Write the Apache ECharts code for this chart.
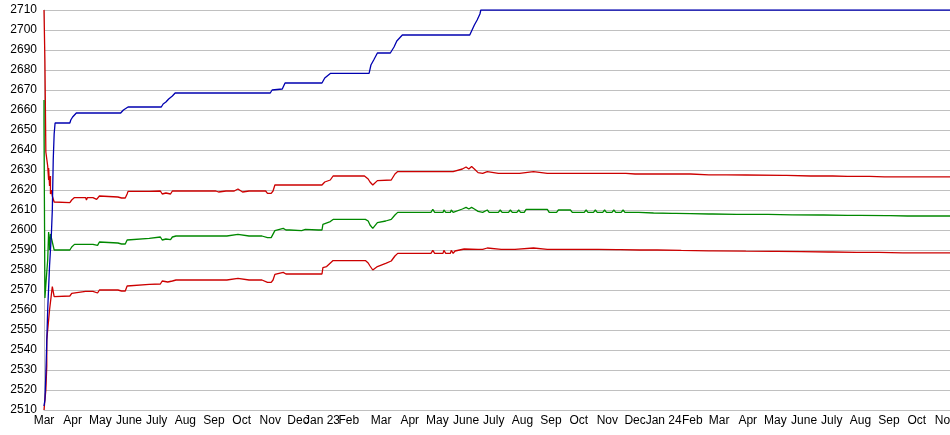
<!DOCTYPE html>
<html>
<head>
<meta charset="utf-8">
<script src="https://cdn.jsdelivr.net/npm/echarts@6/dist/echarts.min.js"></script>
<style>
html,body{margin:0;padding:0;background:#fff;}
#chart{width:950px;height:435px;}
</style>
</head>
<body>
<div id="chart"></div>
<script>
// x axis: day index since 1 Mar 2022
const dayCount = 982;
const monthLabels = ['Mar','Apr','May','June','July','Aug','Sep','Oct','Nov','Dec','Jan 23','Feb','Mar','Apr','May','June','July','Aug','Sep','Oct','Nov','Dec','Jan 24','Feb','Mar','Apr','May','June','July','Aug','Sep','Oct','Nov'];
const monthDays = [0,31,61,92,122,153,184,214,245,275,301,330,365,396,426,457,487,518,549,579,610,640,671,702,731,762,792,823,853,884,915,945,976];

// top line (blue)
const topLine = [[0,2512],[1,2515],[2,2528],[4,2560],[6,2582],[8,2598],[9,2610],[10,2635],[11,2648],[12,2653.5],[28,2653.5],[29,2655],[31,2656.5],[35,2658.5],[83,2658.5],[86,2660],[91,2661.5],[127,2661.5],[129,2663],[132,2664],[135,2665.5],[139,2667],[142,2668.5],[245,2668.5],[247,2670],[258,2670.5],[261,2673.5],[301,2673.5],[304,2676],[310,2678.3],[352,2678.3],[354,2682.5],[357,2685],[361,2688.5],[375,2688.5],[377,2690],[379,2691.5],[382,2694.5],[385,2696],[388,2697.5],[461,2697.5],[463,2699.5],[466,2702.5],[469,2705],[472,2708],[473,2710],[981,2710]];

// upper red line
const upperLine = [[0,2710],[1,2684],[2,2684],[2,2639],[4,2632],[5,2625],[5,2631],[6,2622],[7,2627],[7,2618],[8,2620],[9,2617],[10,2616],[11,2614],[12,2613.7],[28,2613.7],[30,2615],[33,2616.2],[45,2616.2],[46,2615],[47,2616.2],[53,2616.2],[54,2615.3],[57,2615.3],[58,2616.2],[60,2617],[62,2616.5],[80,2616.5],[81,2617.2],[82,2616.5],[84,2616],[88,2616],[90,2618],[91,2619.3],[114,2619.3],[115,2620.2],[116,2619.5],[126,2619.5],[128,2618],[130,2617.5],[132,2618.5],[134,2618],[137,2618],[139,2619.5],[167,2619.5],[168,2620.5],[170,2619.5],[177,2619.5],[178,2620.5],[180,2619.5],[186,2619.5],[187,2620.3],[189,2619],[191,2619.5],[197,2619.5],[198,2618.8],[200,2619.5],[206,2619.5],[207,2620.5],[210,2620.5],[212,2619.5],[215,2619],[217,2619.5],[222,2619.5],[223,2620.5],[225,2619.5],[233,2619.5],[234,2618.8],[236,2619.5],[240,2619.5],[242,2618.3],[246,2618.3],[248,2619.5],[250,2622.5],[258,2622.5],[259,2623.3],[262,2622.5],[266,2622.5],[268,2622],[270,2622.5],[278,2622.5],[279,2622],[281,2622.5],[283,2623],[285,2622.5],[297,2622.5],[301,2622.5],[304,2624],[310,2625],[313,2627],[343,2627],[345,2627.8],[347,2627],[349,2626.5],[351,2625.5],[353,2624],[356,2622.5],[361,2624.7],[376,2625],[380,2628],[383,2629.2],[419,2629.2],[421,2630],[423,2629.2],[432,2629.2],[433,2630],[435,2629.2],[440,2629.2],[441,2630],[443,2629.2],[453,2630.5],[457,2631.5],[460,2630.5],[463,2631.7],[466,2630.5],[470,2628.7],[475,2628.3],[480,2629.2],[482,2628.3],[492,2628.3],[494,2629.2],[496,2628.3],[505,2628.3],[507,2629.2],[509,2628.3],[515,2628.3],[517,2629.2],[530,2629.2],[532,2628.3],[545,2628.3],[547,2629.2],[549,2628.3],[560,2628.3],[562,2629.2],[564,2628.3],[575,2628.3],[577,2629.2],[580,2628.3],[590,2628.3],[592,2629],[594,2628.3],[615,2628.3],[617,2629],[619,2628.3],[630,2628.3],[640,2628],[642,2628.7],[644,2628],[675,2628],[677,2628.6],[679,2628],[700,2628],[720,2627.6],[735,2627.6],[737,2628.2],[739,2627.6],[760,2627.5],[800,2627.3],[802,2627.9],[804,2627.3],[830,2627],[850,2627],[852,2627.6],[854,2627],[870,2626.8],[890,2626.8],[892,2627.4],[894,2626.8],[910,2626.6],[930,2626.6],[932,2627.2],[934,2626.6],[965,2626.6],[967,2627.2],[969,2626.6],[981,2626.6]];

// middle green line
const midLine = [[0,2665],[0,2653],[1,2566],[3,2579],[4,2585],[5,2599],[6,2592],[6,2590],[7,2598],[8,2597],[9,2598],[10,2592],[11,2590],[28,2590],[30,2591.5],[33,2592.8],[45,2592.8],[46,2593.5],[47,2592.8],[53,2592.8],[54,2592.3],[58,2592.3],[60,2594],[62,2593.5],[80,2593.5],[81,2594.2],[82,2593.5],[84,2593],[88,2593],[90,2595],[91,2595.8],[114,2595.8],[115,2596.7],[116,2596.2],[126,2596.5],[128,2595],[130,2594.8],[132,2595.5],[134,2595],[137,2595.2],[139,2596.5],[143,2597],[167,2597],[168,2598],[170,2597],[177,2597],[178,2598],[180,2597],[186,2597],[187,2598],[189,2597],[198,2597],[199,2597.8],[210,2597.8],[212,2597],[222,2597],[223,2598],[225,2597],[233,2597],[234,2598],[236,2597],[242,2596.2],[246,2596.2],[248,2597],[250,2599.7],[259,2600.8],[262,2600],[266,2600],[279,2599.7],[283,2600.3],[285,2600],[297,2600],[301,2600],[302,2602.8],[310,2604.2],[313,2605.3],[343,2605.3],[345,2606],[348,2605.3],[351,2604.5],[353,2602.5],[356,2600.8],[361,2603.7],[370,2604.5],[376,2605.3],[380,2607.5],[383,2608.8],[419,2608.8],[421,2610.3],[423,2608.8],[432,2608.8],[433,2610],[435,2608.8],[440,2608.8],[441,2610],[443,2608.8],[453,2610.5],[457,2611.3],[460,2610.5],[463,2611.3],[466,2610.5],[470,2609.3],[475,2608.8],[480,2610],[482,2608.8],[492,2608.8],[494,2610],[496,2608.8],[503,2608.8],[505,2610],[507,2608.8],[512,2608.8],[514,2610],[516,2608.8],[520,2608.8],[522,2610.3],[545,2610.3],[547,2608.8],[555,2608.8],[557,2610],[570,2610],[572,2608.8],[585,2608.8],[587,2610],[589,2608.8],[595,2608.8],[597,2610],[599,2608.8],[605,2608.8],[607,2610],[609,2608.8],[615,2608.8],[617,2610],[619,2608.8],[625,2608.8],[627,2610],[629,2608.8],[640,2608.8],[642,2609.8],[644,2608.8],[660,2608.5],[680,2608.3],[682,2609],[684,2608.3],[700,2608.2],[720,2608],[722,2608.7],[724,2608],[750,2607.8],[780,2607.8],[782,2608.5],[784,2607.8],[810,2607.6],[840,2607.5],[842,2608.2],[844,2607.5],[870,2607.3],[880,2607.3],[882,2608],[884,2607.3],[912,2607.2],[914,2607.9],[916,2607.2],[935,2607],[950,2607],[952,2607.7],[954,2607],[968,2607],[970,2607.7],[972,2607],[981,2607]];

// lower red line
const lowerLine = [[0,2510],[2,2510],[2,2520],[3,2532],[3,2545],[5,2555],[6,2560],[8,2561],[9,2571.7],[10,2571],[11,2566.7],[12,2567],[28,2567],[30,2568.3],[32,2569.3],[45,2569.3],[46,2568.7],[47,2569.3],[53,2569.3],[54,2568.5],[58,2568.5],[60,2570],[80,2570],[81,2570.5],[82,2570],[84,2569.5],[88,2569.5],[90,2572],[91,2572.8],[114,2572.8],[115,2573.5],[116,2572.8],[126,2573],[128,2574.5],[130,2573.7],[134,2574],[139,2574.5],[143,2575],[167,2575],[168,2576],[170,2575],[177,2575],[178,2576],[180,2575],[186,2575],[187,2576],[189,2575],[198,2575],[199,2575.8],[210,2575.8],[212,2575],[222,2575],[223,2576],[225,2575],[233,2575],[234,2576],[236,2575],[242,2573.8],[246,2573.8],[248,2575],[250,2577.8],[259,2578.8],[262,2578],[297,2578],[301,2578],[302,2581.2],[306,2581.7],[313,2584.7],[343,2584.7],[345,2585.3],[348,2584.7],[351,2583.5],[353,2582],[356,2580],[361,2581.7],[370,2583.3],[376,2584.5],[380,2587],[383,2588.3],[419,2588.3],[421,2589.8],[423,2588.3],[432,2588.3],[433,2589.8],[435,2588.3],[440,2588.3],[441,2589.8],[443,2588.3],[445,2589.5],[455,2590.5],[470,2590.3],[475,2590.3],[480,2591],[482,2590.3],[495,2590.3],[497,2591],[499,2590.3],[510,2590.3],[512,2591],[530,2591],[532,2590.3],[545,2590.3],[547,2591],[549,2590.3],[560,2590.3],[562,2591],[564,2590.3],[580,2590.3],[582,2591],[584,2590.3],[600,2590.3],[620,2590.2],[622,2590.8],[624,2590.2],[645,2590],[660,2590],[662,2590.6],[664,2590],[690,2589.8],[720,2589.6],[722,2590.2],[724,2589.6],[760,2589.4],[790,2589.3],[792,2589.9],[794,2589.3],[820,2589.2],[850,2589],[852,2589.6],[854,2589],[880,2588.8],[900,2588.8],[902,2589.4],[904,2588.8],[930,2588.6],[950,2588.6],[952,2589.2],[954,2588.6],[970,2588.6],[972,2589.2],[974,2588.6],[981,2588.6]];

const categories = Array.from({length: dayCount}, (_, i) => String(i));
const labelMap = new Map(monthDays.map((d, i) => [d, monthLabels[i]]));

const chart = echarts.init(document.getElementById('chart'), null, {renderer: 'canvas'});
const font = "'Liberation Sans', Arial, sans-serif";
function lineSeries(data, color) {
  return {type: 'line', data: data, symbol: 'none', showSymbol: false, smooth: false,
    lineStyle: {color: color, width: 1.3}, itemStyle: {color: color}, animation: false, silent: true};
}
chart.setOption({
  animation: false,
  backgroundColor: '#ffffff',
  grid: {left: 44, right: 0, top: 10, bottom: 25, containLabel: false, outerBoundsMode: 'none'},
  xAxis: {
    type: 'category', data: categories, boundaryGap: false,
    axisLine: {show: true, lineStyle: {color: '#c0c0c0', width: 1}},
    axisTick: {show: false},
    splitLine: {show: false},
    axisLabel: {
      interval: (i) => labelMap.has(i),
      formatter: (v, i) => labelMap.get(i) || '',
      color: '#000', fontSize: 12, fontFamily: font, margin: 5, hideOverlap: false
    }
  },
  yAxis: {
    type: 'value', min: 2510, max: 2710, interval: 10,
    axisLine: {show: true, lineStyle: {color: '#c0c0c0', width: 1}},
    axisTick: {show: false},
    splitLine: {show: true, lineStyle: {color: '#c0c0c0', width: 1}},
    axisLabel: {color: '#000', fontSize: 12, fontFamily: font, margin: 7, formatter: (v) => String(v)}
  },
  series: [
    lineSeries(upperLine, '#cc0000'),
    lineSeries(lowerLine, '#cc0000'),
    lineSeries(midLine, '#008800'),
    lineSeries(topLine, '#0000b0')
  ]
});
</script>
</body>
</html>
